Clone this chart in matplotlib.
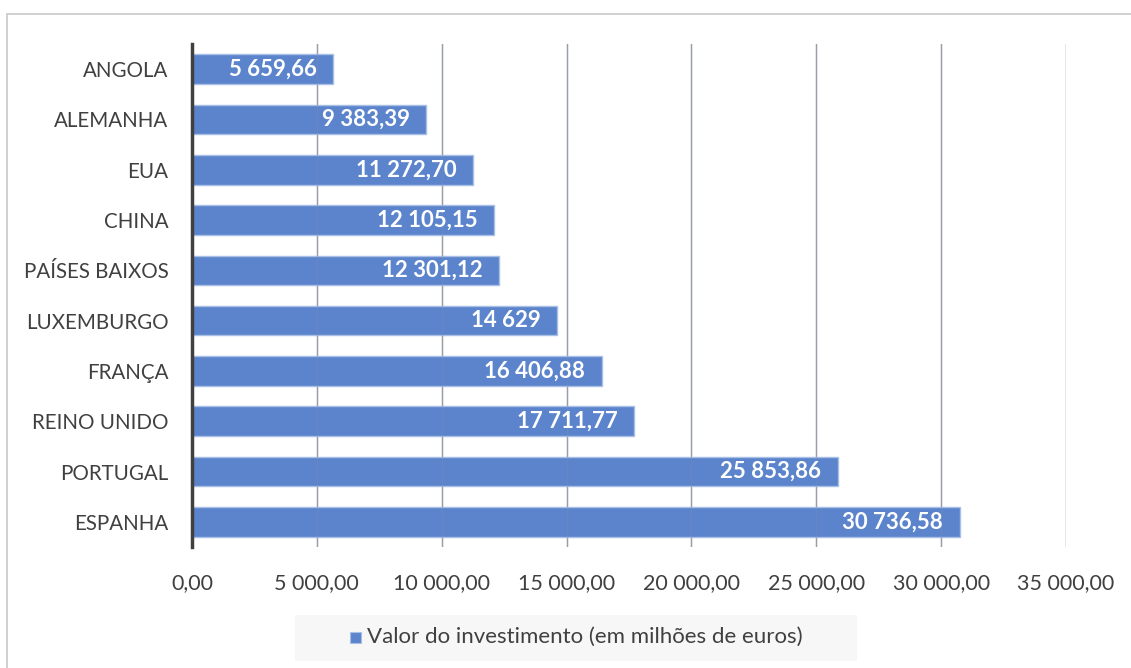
import matplotlib
matplotlib.use("Agg")
import matplotlib.pyplot as plt
from matplotlib.patches import Rectangle

countries = ["ANGOLA", "ALEMANHA", "EUA", "CHINA", "PAÍSES BAIXOS",
             "LUXEMBURGO", "FRANÇA", "REINO UNIDO", "PORTUGAL", "ESPANHA"]
values = [5659.66, 9383.39, 11272.70, 12105.15, 12301.12,
          14629, 16406.88, 17711.77, 25853.86, 30736.58]
value_labels = ["5 659,66", "9 383,39", "11 272,70", "12 105,15", "12 301,12",
                "14 629", "16 406,88", "17 711,77", "25 853,86", "30 736,58"]
xticks = [0, 5000, 10000, 15000, 20000, 25000, 30000, 35000]
xtick_labels = ["0,00", "5 000,00", "10 000,00", "15 000,00", "20 000,00",
                "25 000,00", "30 000,00", "35 000,00"]

plt.rcParams['font.family'] = ['Lato', 'DejaVu Sans']

fig = plt.figure(figsize=(11.31, 6.68), dpi=100)
ax = fig.add_axes([192 / 1131, 1 - 547 / 668, (1066 - 192) / 1131, (547 - 44) / 668])

bar_color = "#5b84cc"
ypos = list(range(len(countries)))
ax.barh(ypos, values, height=0.59, color=bar_color, edgecolor="#a8bfe6",
        linewidth=1, zorder=2)
ax.set_ylim(len(countries) - 0.5, -0.5)
ax.set_xlim(0, 35000)

ax.set_yticks(ypos)
ax.set_yticklabels(countries, fontsize=14.8, color="#404040")
ax.set_xticks(xticks)
ax.set_xticklabels(xtick_labels, fontsize=15.5, color="#404040")
ax.tick_params(axis="both", length=0)
ax.tick_params(axis="y", pad=17)
ax.tick_params(axis="x", pad=19)

# gridlines: solid behind bars, faint on top of them
for xt in xticks[1:]:
    ax.axvline(xt, color="#a6a6a6", linewidth=1, zorder=1)
    ax.axvline(xt, color="#7f8fb0", linewidth=1, alpha=0.35, zorder=3)
for s in ["top", "right", "bottom"]:
    ax.spines[s].set_visible(False)
ax.spines["left"].set_color("#404040")
ax.spines["left"].set_linewidth(2.5)
ax.spines["left"].set_zorder(5)

for y, v, lab in zip(ypos, values, value_labels):
    ax.annotate(lab, (v, y), xytext=(-12, 0), textcoords="offset points",
                ha="right", va="center", color="white", fontsize=16,
                fontweight="bold", zorder=4)

# legend box
fig.patches.append(Rectangle((295 / 1131, 1 - 661 / 668), (857 - 295) / 1131, 46 / 668,
                             transform=fig.transFigure, facecolor="#f7f7f7",
                             edgecolor="none", zorder=0))
fig.patches.append(Rectangle((350 / 1131, 1 - 643 / 668), 11 / 1131, 11 / 668,
                             transform=fig.transFigure, facecolor=bar_color,
                             edgecolor="#a8bfe6", linewidth=0.8))
fig.text(367 / 1131, 1 - 637 / 668, "Valor do investimento (em milhões de euros)",
         fontsize=16, color="#404040", va="center", ha="left")

# outer chart border
fig.patches.append(Rectangle((7 / 1131, -0.01), 1.05, 1 - 14 / 668 + 0.01,
                             transform=fig.transFigure, facecolor="none",
                             edgecolor="#c8c8c8", linewidth=1.2))

fig.savefig("out.png", dpi=100)
